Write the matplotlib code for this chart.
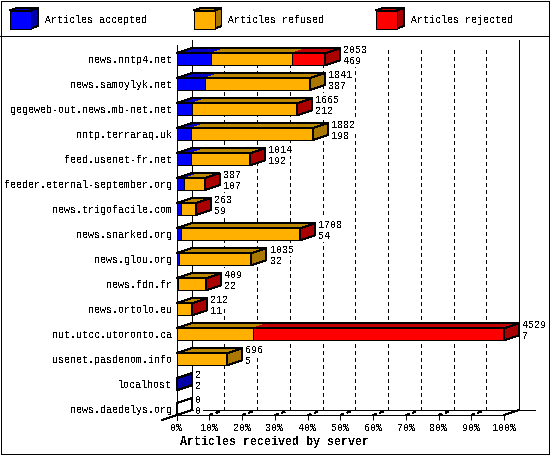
import matplotlib
matplotlib.use("Agg")
import matplotlib.pyplot as plt
from matplotlib.patches import Polygon, Rectangle

plt.rcParams["font.family"] = ["Liberation Mono", "DejaVu Sans Mono"]
plt.rcParams["text.antialiased"] = False
plt.rcParams["lines.antialiased"] = False
plt.rcParams["patch.antialiased"] = False

hosts = [
    "news.nntp4.net", "news.samoylyk.net", "gegeweb-out.news.mb-net.net",
    "nntp.terraraq.uk", "feed.usenet-fr.net", "feeder.eternal-september.org",
    "news.trigofacile.com", "news.snarked.org", "news.glou.org", "news.fdn.fr",
    "news.ortolo.eu", "nut.utcc.utoronto.ca", "usenet.pasdenom.info",
    "localhost", "news.daedelys.org",
]
totals = [2053, 1841, 1665, 1882, 1014, 387, 263, 1708, 1035, 409, 212, 4529, 696, 2, 0]
accepted = [469, 387, 212, 198, 192, 107, 59, 54, 32, 22, 11, 7, 5, 2, 0]
refused = [1131, 1454, 1450, 1684, 819, 278, 202, 1650, 1003, 385, 200, 1046, 691, 0, 0]
rejected = [453, 0, 3, 0, 3, 2, 2, 4, 0, 2, 1, 3476, 0, 0, 0]

series_names = ["Articles accepted", "Articles refused", "Articles rejected"]
front_colors = ["#0000ff", "#ffb000", "#ff0000"]
top_colors = ["#0000c4", "#bb8800", "#c00000"]
side_colors = ["#0000aa", "#aa7700", "#aa0000"]
percents = list(range(0, 101, 10))

W, H = 550, 455
PX = 0.72  # one pixel in points
LEFT, RIGHT, TOP, BOTTOM = 176.7, 504.0, 45.0, 415.0
ROW0, ROW_STEP = 59.2, 25.0
BAR_HALF = 6.0 / ROW_STEP
FONT = 7.2

fig = plt.figure(figsize=(W / 100, H / 100), dpi=100, facecolor="white")

# frame and legend live in a pixel canvas
canvas = fig.add_axes([0, 0, 1, 1])
canvas.set_xlim(0, W)
canvas.set_ylim(H, 0)
canvas.axis("off")
canvas.add_patch(Rectangle((0.5, 0.5), W - 1.5, H - 1.5, fill=False, ec="black", lw=PX))
canvas.plot([0, W], [35.5, 35.5], color="black", lw=PX)

for name, x_box, x_text, front, top, side in zip(
    series_names, [10, 193.5, 376], [44.7, 227.7, 410.7], front_colors, top_colors, side_colors
):
    w, y0, y1, dx, dy = 21, 10.5, 28.5, 7, 2.5
    canvas.add_patch(Polygon([(x_box, y0), (x_box + dx, y0 - dy), (x_box + w + dx, y0 - dy), (x_box + w, y0)],
                             fc=top, ec="black", lw=PX))
    canvas.add_patch(Polygon([(x_box + w, y0), (x_box + w + dx, y0 - dy), (x_box + w + dx, y1 - dy), (x_box + w, y1)],
                             fc=side, ec="black", lw=PX))
    canvas.add_patch(Rectangle((x_box, y0), w, y1 - y0, fc=front, ec="black", lw=PX))
    canvas.text(x_text, 20, name, fontsize=FONT, va="center", ha="left")

# chart: front plane of the pseudo 3D box
ax = fig.add_axes([LEFT / W, 1 - BOTTOM / H, (RIGHT - LEFT) / W, (BOTTOM - TOP) / H])
ax.patch.set_alpha(0)
max_total = max(totals)
ax.set_xlim(0, max_total)
ax.set_ylim((BOTTOM - ROW0) / ROW_STEP, (TOP - ROW0) / ROW_STEP)
x_per_px = max_total / (RIGHT - LEFT)
depth_x = 15 * x_per_px
depth_y = -5 / ROW_STEP

for s in ["top", "right"]:
    ax.spines[s].set_visible(False)
for s in ["left", "bottom"]:
    ax.spines[s].set_linewidth(PX)

ax.set_yticks(range(len(hosts)))
ax.set_yticklabels(hosts, fontsize=FONT)
ax.tick_params(axis="y", length=0, pad=3.4)
tick_positions = [p / 100 * max_total for p in percents]
ax.set_xticks(tick_positions)
ax.set_xticklabels([f"{p}%" for p in percents], fontsize=FONT)
ax.tick_params(axis="x", length=3.6, width=PX, pad=2.5)
ax.set_xlabel("Articles received by server", fontsize=8.4, fontweight="bold", va="center")
ax.xaxis.set_label_coords((274 - LEFT) / (RIGHT - LEFT), -(442 - BOTTOM) / (BOTTOM - TOP))

# back walls, floor and grid
y_floor = ax.get_ylim()[0]
y_floor_back = y_floor + depth_y
y_back_top = ax.get_ylim()[1] + depth_y
line = dict(color="black", lw=PX, clip_on=False, zorder=1)
ax.plot([depth_x, depth_x], [y_back_top, y_floor_back], **line)
ax.plot([max_total + depth_x] * 2, [y_back_top, y_floor_back], **line)
ax.plot([depth_x, max_total + 31 * x_per_px], [y_floor_back, y_floor_back], **line)
ax.plot([-depth_x, 0], [y_floor - depth_y, y_floor], **line)
ax.plot([0, depth_x], [y_floor, y_floor_back], **line)
ax.plot([max_total, max_total + depth_x], [y_floor, y_floor_back], **line)
ax.plot([0, 0], [y_floor - depth_y, ax.get_ylim()[1]], **line)
for x in tick_positions[1:-1]:
    ax.plot([x + depth_x] * 2, [-0.36, y_floor_back], color="black", lw=PX,
            dashes=(4, 4), clip_on=False, zorder=1)
    ax.plot([x, x + depth_x], [y_floor, y_floor_back], color="black", lw=PX,
            dashes=(3.5, 3.5, 3.5, 30), clip_on=False, zorder=1)

# stacked bars
label_box = dict(fc="white", ec="none", pad=1)
for row, (total, parts) in enumerate(zip(totals, zip(accepted, refused, rejected))):
    y_top = row - BAR_HALF
    y_bot = row + BAR_HALF
    start = 0
    side = "white"
    for value, front, top, dark in zip(parts, front_colors, top_colors, side_colors):
        if value == 0:
            continue
        ax.add_patch(Polygon([(start, y_top), (start + depth_x, y_top + depth_y),
                              (start + value + depth_x, y_top + depth_y), (start + value, y_top)],
                             fc=top, ec="none", clip_on=False, zorder=3))
        ax.add_patch(Rectangle((start, y_top), value, y_bot - y_top, fc=front, ec="black",
                               lw=PX, clip_on=False, zorder=4))
        start += value
        side = dark
    ax.add_patch(Polygon([(0, y_top), (depth_x, y_top + depth_y), (total + depth_x, y_top + depth_y),
                          (total + depth_x, y_bot + depth_y), (total, y_bot), (total, y_top)],
                         fill=False, ec="black", lw=PX, clip_on=False, zorder=5))
    ax.add_patch(Polygon([(total, y_top), (total + depth_x, y_top + depth_y),
                          (total + depth_x, y_bot + depth_y), (total, y_bot)],
                         fc=side, ec="black", lw=PX, clip_on=False, zorder=5))
    label_x = total + depth_x + 3.5 * x_per_px
    ax.text(label_x, row - 9.5 / ROW_STEP, str(total), fontsize=FONT, va="center", ha="left",
            bbox=label_box, zorder=2)
    ax.text(label_x, row + 1.8 / ROW_STEP, str(accepted[row]), fontsize=FONT, va="center", ha="left",
            bbox=label_box, zorder=2)

fig.savefig("out.png", dpi=100)
